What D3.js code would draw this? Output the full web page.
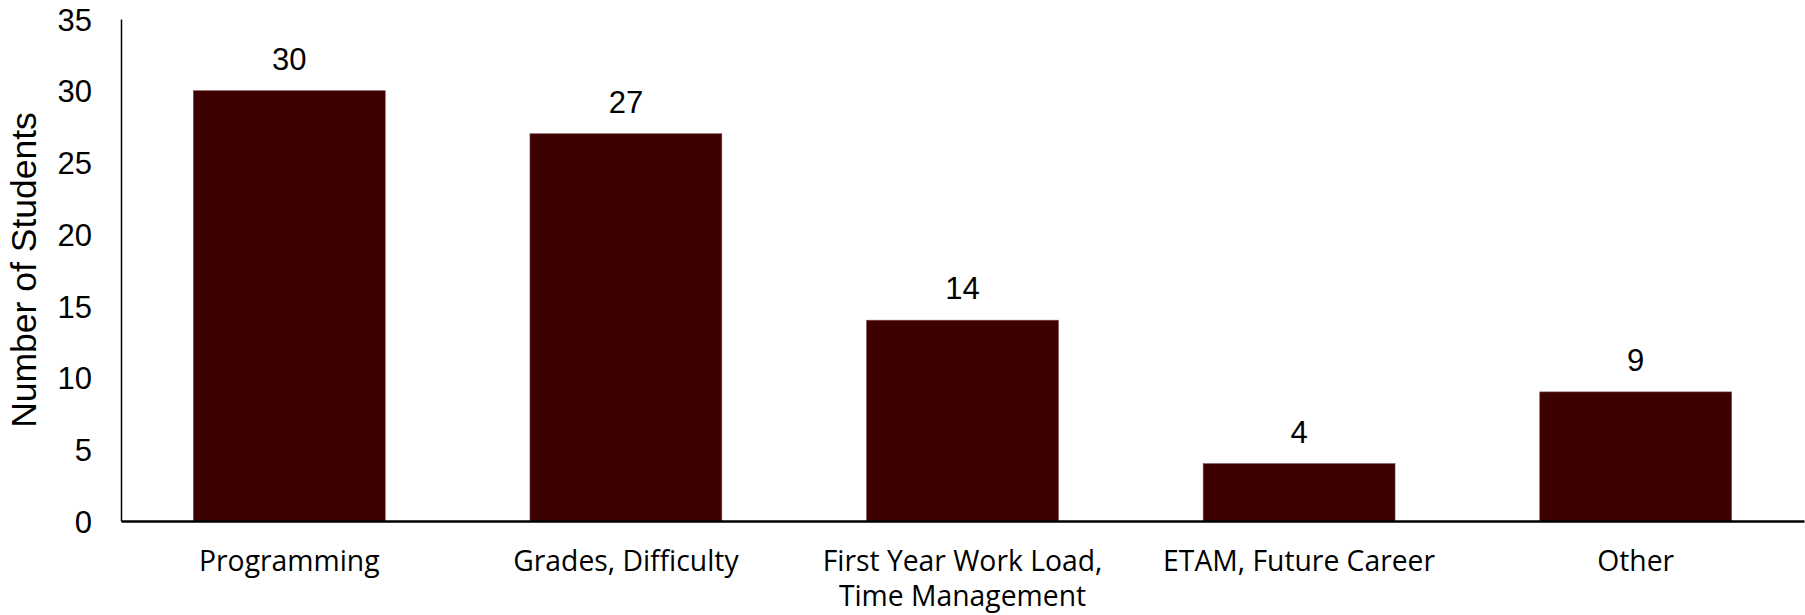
<!DOCTYPE html>
<html>
<head>
<meta charset="utf-8">
<script src="https://cdn.jsdelivr.net/npm/d3@7/dist/d3.min.js"></script>
<style>
  body { margin: 0; background: #fff; }
  .num { font-family: "Liberation Sans", Arial, sans-serif; font-size: 31px; fill: #000; }
  .title { font-family: "Liberation Sans", Arial, sans-serif; font-size: 35.5px; fill: #000; }
  .cat { font-family: "Open Sans", sans-serif; font-size: 28.3px; fill: #000; }
</style>
</head>
<body>
<svg width="1805" height="615"></svg>
<script>
// Chart values.
var categories = ["Programming", "Grades, Difficulty", "First Year Work Load,\nTime Management", "ETAM, Future Career", "Other"];
var counts = [30, 27, 14, 4, 9];
var yTicks = [0, 5, 10, 15, 20, 25, 30, 35];
var axisTitle = "Number of Students";

var width = 1805, height = 615;
// Plot area edges (note: "top" is taken by window.top).
var plotLeft = 121, plotRight = 1804, plotTop = 19, plotBottom = 521;

var svg = d3.select("svg");

var x = d3.scaleBand()
  .domain(categories)
  .range([plotLeft, plotRight])
  .paddingInner(0.43)
  .paddingOuter(0.215);

var y = d3.scaleLinear()
  .domain([0, 35])
  .range([plotBottom, plotTop]);

// Bars.
svg.append("g").selectAll("rect")
  .data(counts)
  .enter().append("rect")
    .attr("x", function(d, i) { return x(categories[i]); })
    .attr("y", function(d) { return y(d); })
    .attr("width", x.bandwidth())
    .attr("height", function(d) { return y(0) - y(d); })
    .attr("fill", "#3c0000")
    .attr("stroke", "#7a4a4a")
    .attr("stroke-width", 0.6);

// Value labels above bars.
svg.append("g").selectAll("text")
  .data(counts)
  .enter().append("text")
    .attr("class", "num")
    .attr("x", function(d, i) { return x(categories[i]) + x.bandwidth() / 2; })
    .attr("y", function(d) { return y(d) - 21; })
    .attr("text-anchor", "middle")
    .text(function(d) { return d; });

// Y axis: line only, no tick marks.
var yAxis = svg.append("g")
  .attr("transform", "translate(" + plotLeft + ",0)")
  .call(d3.axisLeft(y).tickValues(yTicks).tickSize(0).tickPadding(29));
yAxis.select(".domain").attr("stroke", "#000").attr("stroke-width", 1.5);
yAxis.selectAll("text")
  .attr("class", "num")
  .attr("fill", null)
  .attr("dy", "0.36em");
yAxis.attr("font-family", null).attr("font-size", null);

// X axis baseline.
var xAxis = svg.append("g")
  .attr("transform", "translate(0," + plotBottom + ")")
  .call(d3.axisBottom(x).tickSize(0).tickFormat(""));
xAxis.select(".domain").attr("stroke", "#000").attr("stroke-width", 2.5);

// Category labels, split over lines.
var catLabels = svg.append("g").selectAll("text")
  .data(categories)
  .enter().append("text")
    .attr("class", "cat")
    .attr("text-anchor", "middle");
catLabels.each(function(d) {
  var el = d3.select(this);
  var cx = x(d) + x.bandwidth() / 2;
  d.split("\n").forEach(function(line, i) {
    el.append("tspan")
      .attr("x", cx)
      .attr("y", 571 + i * 35)
      .text(line);
  });
});

// Axis title.
svg.append("text")
  .attr("class", "title")
  .attr("transform", "translate(36," + (plotTop + plotBottom) / 2 + ") rotate(-90)")
  .attr("text-anchor", "middle")
  .text(axisTitle);
</script>
</body>
</html>
